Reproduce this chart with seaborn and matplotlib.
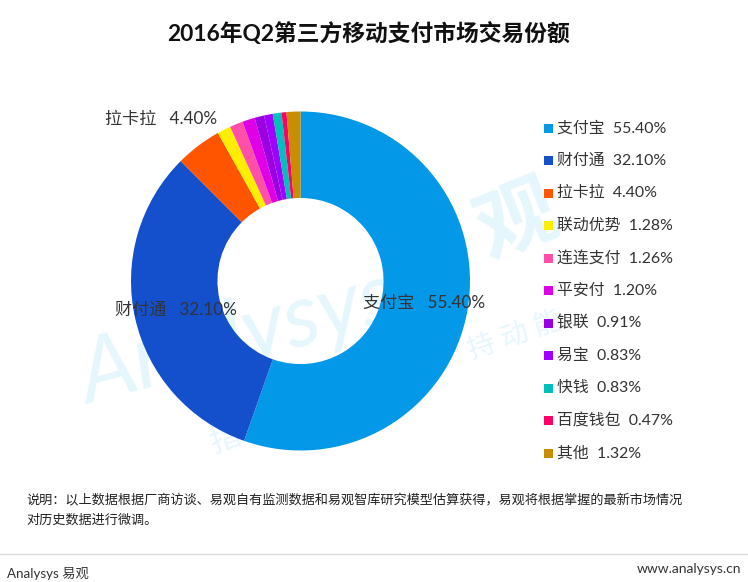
import matplotlib
matplotlib.use('Agg')
import matplotlib.pyplot as plt
import seaborn as sns
from matplotlib.patches import Rectangle

names = ['支付宝', '财付通', '拉卡拉', '联动优势', '连连支付', '平安付', '银联', '易宝', '快钱', '百度钱包', '其他']
shares = [55.40, 32.10, 4.40, 1.28, 1.26, 1.20, 0.91, 0.83, 0.83, 0.47, 1.32]
colors = ['#0398E8', '#1550CC', '#FF5500', '#FFEE00', '#FF4FA8', '#E000E8',
          '#9A00E0', '#A000FF', '#00C0BC', '#FF0066', '#C88E00']
title = '2016年Q2第三方移动支付市场交易份额'
note = ['说明：以上数据根据厂商访谈、易观自有监测数据和易观智库研究模型估算获得，易观将根据掌握的最新市场情况',
        '对历史数据进行微调。']

sns.set_theme(style='white')
plt.rcParams['font.family'] = ['Lato', 'Noto Sans CJK SC', 'DejaVu Sans']

W, H = 748, 582
fig = plt.figure(figsize=(W / 100, H / 100), dpi=100)

def fx(px):
    return px / W

def fy(py):
    return 1 - py / H

# watermark sits behind the pie, only shows on the white parts
wm = '#E6F6FD'
fig.text(fx(238), fy(338), 'Analysys', fontsize=64, color=wm, rotation=15, ha='center', va='center',
         style='italic', zorder=-2)
fig.text(fx(518), fy(222), '观', fontsize=58, color=wm, rotation=22, ha='center', va='center',
         fontweight='bold', zorder=-2)
fig.text(fx(515), fy(335), '持 动 能', fontsize=20, color=wm, rotation=19, ha='center', va='center', zorder=-2)
fig.text(fx(225), fy(440), '指', fontsize=22, color=wm, rotation=19, ha='center', va='center', zorder=-2)

# pie is 339px wide, centred on (300.5, 281)
R = 169.5
ax = fig.add_axes([fx(300.5 - R), fy(281 + R), 2 * R / W, 2 * R / H])
ax.patch.set_alpha(0)
ax.pie(shares, colors=colors, startangle=90, counterclock=False, radius=1,
       wedgeprops=dict(width=0.51, linewidth=0))
ax.set_xlim(-1, 1)
ax.set_ylim(-1, 1)

fig.text(fx(368), fy(33), title, fontsize=16.4, fontweight='bold', color='#111111', ha='center', va='center')

label_color = '#333333'
fig.text(fx(424), fy(303), f'{names[0]}   {shares[0]:.2f}%', fontsize=12.3, color=label_color, ha='center', va='center')
fig.text(fx(176), fy(310), f'{names[1]}   {shares[1]:.2f}%', fontsize=12.3, color=label_color, ha='center', va='center')
fig.text(fx(161), fy(119), f'{names[2]}   {shares[2]:.2f}%', fontsize=12.3, color=label_color, ha='center', va='center')

# legend column, one row every 32.45px
for i, (name, share, color) in enumerate(zip(names, shares, colors)):
    y = 128.5 + i * 32.45
    fig.add_artist(Rectangle((fx(543.5), fy(y + 4.5)), 9 / W, 9 / H, transform=fig.transFigure,
                             facecolor=color, edgecolor='none'))
    fig.text(fx(557), fy(y), f'{name}  {share:.2f}%', fontsize=11.4, color=label_color, ha='left', va='center')

fig.text(fx(26), fy(500), note[0], fontsize=9.48, color='#222222', ha='left', va='center')
fig.text(fx(26), fy(519), note[1], fontsize=9.48, color='#222222', ha='left', va='center')

fig.add_artist(plt.Line2D([0, 1], [fy(554), fy(554)], color='#DDDDDD', linewidth=1))
fig.text(fx(7), fy(573), 'Analysys 易观', fontsize=9.6, color='#333333', ha='left', va='center')
fig.text(fx(741), fy(569), 'www.analysys.cn', fontsize=10, color='#333333', ha='right', va='center')

fig.savefig('out.png', dpi=100)
